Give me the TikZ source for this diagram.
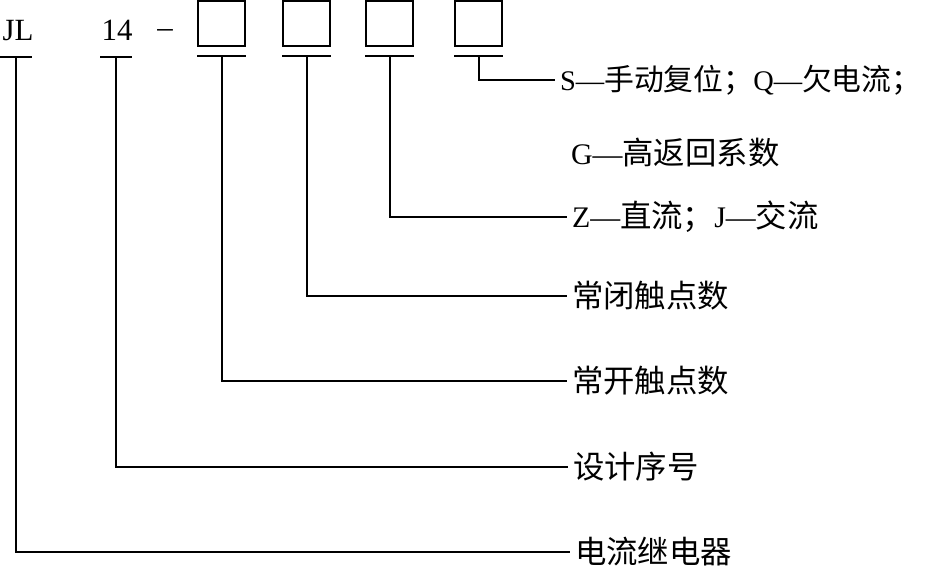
\documentclass[tikz,border=0pt]{standalone}
\usepackage{fontspec}
\usepackage{tikz}
\setmainfont{Liberation Serif}
\newfontfamily\cjk{Noto Sans CJK SC}[Scale=1.05]

\begin{document}
\begin{tikzpicture}[x=1bp,y=-1bp,line width=2bp,
  code/.style={inner sep=0pt,anchor=base,font=\fontsize{31}{36}\selectfont},
  lbl/.style={anchor=west,inner xsep=4bp,inner ysep=0pt,font=\fontsize{30}{36}\selectfont},
  slot/.style={draw,minimum width=47bp,minimum height=45bp,inner sep=0pt}]
\path[use as bounding box] (0,0) rectangle (928,571);
% model code
\node[code] (jl) at (18,41) {JL};
\node[code] (num) at (117,41) {14};
\node[code] (dash) at (165,38) {–};
\node[slot] (b1) at (221.5,23.5) {};
\node[slot] (b2) at (306.5,23.5) {};
\node[slot] (b3) at (389.5,23.5) {};
\node[slot] (b4) at (478.5,23.5) {};
% meanings
\node[lbl,font=\fontsize{28.5}{34}\selectfont] (l1) at (555,80) {S—{\cjk 手动复位；}Q—{\cjk 欠电流；}};
\node[lbl] (l2) at (566,153) {G—{\cjk 高返回系数}};
\node[lbl] (l3) at (567,217) {Z—{\cjk 直流；}J—{\cjk 交流}};
\node[lbl] (l4) at (567,296) {\cjk 常闭触点数};
\node[lbl] (l5) at (567,381) {\cjk 常开触点数};
\node[lbl] (l6) at (568,467) {\cjk 设计序号};
\node[lbl] (l7) at (570,552) {\cjk 电流继电器};
% bars under the code
\coordinate (t1) at (16,57);
\coordinate (t2) at (116,57);
\draw ([xshift=-16bp]t1) -- ([xshift=16bp]t1);
\draw ([xshift=-16bp]t2) -- ([xshift=16bp]t2);
\foreach \b in {b1,b2,b3,b4}
  \draw ([yshift=-9bp]\b.south west) -- ([yshift=-9bp]\b.south east);
% leaders
\draw ([yshift=-9bp]b4.south) |- (l1.west);
\draw ([yshift=-9bp]b3.south) |- (l3.west);
\draw ([yshift=-9bp]b2.south) |- (l4.west);
\draw ([yshift=-9bp]b1.south) |- (l5.west);
\draw (t2) |- (l6.west);
\draw (t1) |- (l7.west);
\end{tikzpicture}
\end{document}
